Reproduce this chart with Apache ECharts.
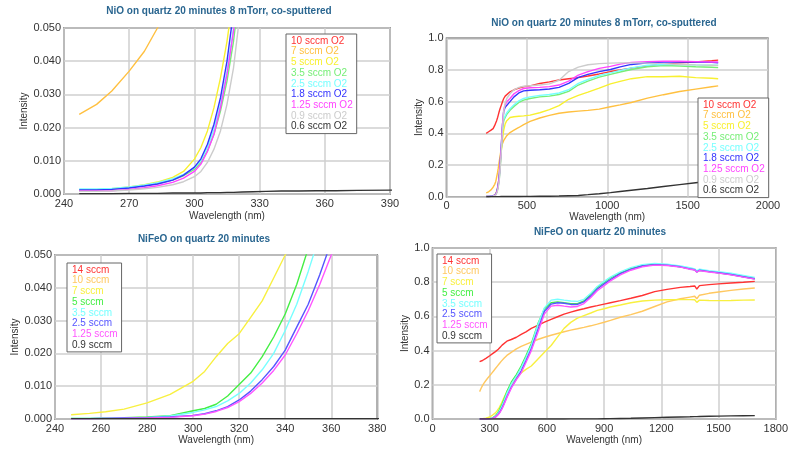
<!DOCTYPE html>
<html><head><meta charset="utf-8">
<script src="https://cdn.jsdelivr.net/npm/echarts@6/dist/echarts.min.js"></script>
<style>html,body{margin:0;padding:0;background:#fff}#c{width:791px;height:449px}</style>
</head><body><div id="c"></div>
<script>
// ---------- NiO on quartz (top panels) ----------
const wlNiO = [247,255,262,270,277,283,290,295,300,303, 306,309,312,315,318,322,327,333,340,348, 356,365,375,395,420,450,480,520,580,640, 700,760,820,880,950,1020,1080,1150,1250,1350, 1450,1550,1650,1690];
const nioNames = ['10 sccm O2','7 sccm O2','5 sccm O2','3.5 sccm O2','2.5 sccm O2','1.8 sccm O2','1.25 sccm O2','0.9 sccm O2','0.6 sccm O2'];
const nio10 = [0.400,0.405,0.41,0.415,0.42,0.425,0.43,0.44,0.45,0.46, 0.465,0.472,0.48,0.49,0.50,0.515,0.535,0.555,0.575,0.60, 0.62,0.635,0.645,0.662,0.675,0.686,0.694,0.70,0.715,0.725, 0.737,0.745,0.752,0.762,0.775,0.79,0.80,0.812,0.825,0.837, 0.845,0.85,0.858,0.862];
const nio7 = [0.024,0.027,0.031,0.037,0.043,0.050,0.06,0.068,0.078,0.086, 0.095,0.108,0.125,0.14,0.155,0.18,0.215,0.255,0.30,0.335, 0.355,0.37,0.385,0.405,0.42,0.437,0.455,0.475,0.497,0.513, 0.527,0.535,0.54,0.545,0.553,0.568,0.58,0.595,0.622,0.644, 0.664,0.679,0.694,0.70];
const nio5 = [0.0012,0.0013,0.0016,0.0021,0.0028,0.0036,0.005,0.0068,0.0105,0.014, 0.019,0.026,0.035,0.046,0.06,0.085,0.12,0.19,0.28,0.36, 0.42,0.46,0.48,0.50,0.505,0.508,0.51,0.515,0.53,0.55, 0.575,0.615,0.64,0.66,0.685,0.712,0.728,0.745,0.758,0.757, 0.76,0.752,0.748,0.745];
const nio35 = [0.0013,0.0013,0.0015,0.0019,0.0025,0.0031,0.0042,0.0055,0.0074,0.0095, 0.013,0.018,0.025,0.034,0.046,0.068,0.10,0.17,0.28,0.42, 0.48,0.50,0.52,0.545,0.57,0.595,0.61,0.62,0.63,0.635, 0.645,0.665,0.705,0.73,0.755,0.772,0.787,0.803,0.82,0.828, 0.825,0.82,0.817,0.815];
const nio25 = [0.0015,0.0015,0.0017,0.0021,0.0027,0.0034,0.0046,0.0059,0.0079,0.0101, 0.014,0.0195,0.027,0.037,0.05,0.072,0.105,0.18,0.29,0.43, 0.49,0.51,0.53,0.555,0.58,0.605,0.62,0.63,0.64,0.645, 0.655,0.675,0.715,0.74,0.765,0.782,0.797,0.813,0.83,0.835, 0.835,0.832,0.83,0.83];
const nio18 = [0.0012,0.0012,0.0014,0.0018,0.0024,0.003,0.0042,0.0057,0.0081,0.0106, 0.015,0.021,0.029,0.04,0.055,0.08,0.12,0.2,0.31,0.45, 0.54,0.565,0.575,0.60,0.63,0.655,0.668,0.672,0.675,0.68, 0.69,0.715,0.753,0.772,0.79,0.803,0.82,0.835,0.846,0.85, 0.85,0.85,0.848,0.846];
const nio125 = [0.0009,0.0009,0.001,0.0014,0.0019,0.0025,0.0035,0.0048,0.0068,0.009, 0.0128,0.018,0.026,0.036,0.049,0.075,0.11,0.19,0.30,0.45, 0.55,0.58,0.60,0.62,0.65,0.67,0.683,0.688,0.69,0.695, 0.705,0.73,0.768,0.79,0.81,0.823,0.837,0.848,0.853,0.855, 0.855,0.853,0.85,0.85];
const nio09 = [0.0008,0.0008,0.0009,0.0012,0.0016,0.002,0.0028,0.0037,0.0052,0.0068, 0.0095,0.0135,0.019,0.027,0.038,0.06,0.09,0.16,0.27,0.42, 0.54,0.59,0.62,0.65,0.675,0.69,0.697,0.70,0.705,0.712, 0.735,0.79,0.818,0.833,0.84,0.843,0.845,0.845,0.843,0.84, 0.835,0.832,0.83,0.828];
const nio06 = [0.0001,0.0001,0.0001,0.0002,0.0002,0.0002,0.0003,0.0003,0.0003,0.0003, 0.0004,0.0004,0.0004,0.0005,0.0005,0.0006,0.0007,0.0008,0.0009,0.0009, 0.001,0.001,0.0011,0.0012,0.0013,0.0015,0.0018,0.0022,0.0027,0.0033, 0.004,0.006,0.008,0.013,0.019,0.026,0.033,0.041,0.052,0.064, 0.076,0.088,0.099,0.105];
const nioValues = [nio10,nio7,nio5,nio35,nio25,nio18,nio125,nio09,nio06];
const nioColors = ['#ff3333','#ffc040','#f8f030','#77ee77','#77ffff','#3333ff','#ff44ff','#cccccc','#333333'];

// ---------- NiFeO on quartz (bottom panels) ----------
const wlFe = [247,255,262,270,280,290,300,305,310,315, 320,325,330,335,340,345,350,355,360,365, 375,390,413,440,465,490,518,552,587,622, 656,690,725,760,794,830,864,900,933,985, 1040,1100,1165,1230,1300,1350,1375,1386,1400,1450, 1500,1565,1630,1690];
const feNames = ['14 sccm','10 sccm','7 sccm','5 sccm','3.5 sccm','2.5 sccm','1.25 sccm','0.9 sccm'];
const fe14 = [0.335,0.338,0.342,0.347,0.355,0.362,0.37,0.374,0.378,0.382, 0.386,0.39,0.394,0.398,0.402,0.408,0.414,0.42,0.426,0.432, 0.442,0.455,0.465,0.478,0.495,0.51,0.53,0.548,0.566,0.583, 0.598,0.613,0.625,0.636,0.645,0.655,0.663,0.672,0.68,0.692, 0.706,0.722,0.745,0.758,0.77,0.775,0.778,0.76,0.78,0.786, 0.79,0.795,0.80,0.805];
const fe10 = [0.16,0.18,0.195,0.21,0.225,0.24,0.253,0.26,0.267,0.274, 0.281,0.288,0.295,0.302,0.309,0.316,0.323,0.33,0.337,0.343, 0.355,0.372,0.39,0.41,0.425,0.437,0.45,0.465,0.478,0.49, 0.50,0.51,0.52,0.528,0.536,0.545,0.555,0.566,0.577,0.595, 0.61,0.63,0.658,0.685,0.703,0.713,0.718,0.703,0.724,0.735, 0.743,0.752,0.76,0.766];
const fe7 = [0.0013,0.0017,0.0022,0.003,0.0049,0.0075,0.0115,0.0145,0.019,0.023, 0.026,0.031,0.036,0.043,0.050,0.058,0.067,0.077,0.088,0.10, 0.125,0.16,0.205,0.24,0.27,0.29,0.31,0.35,0.39,0.43, 0.48,0.53,0.565,0.59,0.605,0.62,0.635,0.645,0.655,0.667, 0.68,0.69,0.695,0.697,0.698,0.698,0.697,0.682,0.695,0.693, 0.692,0.693,0.695,0.696];
const fe5 = [0.0002,0.0002,0.0003,0.0004,0.0006,0.001,0.0025,0.0032,0.0045,0.007, 0.0105,0.014,0.019,0.025,0.032,0.041,0.052,0.063,0.075,0.088, 0.115,0.16,0.215,0.26,0.31,0.37,0.44,0.555,0.645,0.68, 0.685,0.68,0.675,0.675,0.69,0.73,0.77,0.80,0.825,0.855, 0.88,0.897,0.905,0.90,0.89,0.878,0.873,0.86,0.87,0.862, 0.855,0.845,0.832,0.82];
const fe35 = [0.0002,0.0002,0.0003,0.0004,0.0005,0.0009,0.002,0.0028,0.0038,0.0055, 0.0078,0.011,0.015,0.02,0.027,0.035,0.045,0.056,0.067,0.079, 0.105,0.15,0.205,0.25,0.30,0.36,0.43,0.55,0.65,0.695, 0.70,0.695,0.69,0.688,0.70,0.735,0.775,0.805,0.83,0.86, 0.885,0.903,0.91,0.905,0.895,0.885,0.878,0.866,0.876,0.868, 0.862,0.852,0.84,0.828];
const fe25 = [0.0001,0.0001,0.0002,0.0003,0.0004,0.0006,0.0011,0.0016,0.0025,0.0038, 0.0058,0.0085,0.012,0.016,0.021,0.028,0.035,0.044,0.054,0.065, 0.09,0.13,0.185,0.235,0.28,0.34,0.41,0.52,0.63,0.672, 0.68,0.677,0.67,0.67,0.685,0.72,0.76,0.79,0.815,0.85, 0.875,0.895,0.903,0.90,0.89,0.878,0.873,0.86,0.87,0.862, 0.855,0.845,0.832,0.82];
const fe125 = [0.0001,0.0001,0.0002,0.0002,0.0003,0.0005,0.001,0.0015,0.0023,0.0035, 0.0053,0.0078,0.011,0.0148,0.0195,0.026,0.033,0.041,0.05,0.06, 0.085,0.125,0.18,0.23,0.27,0.33,0.40,0.505,0.615,0.66, 0.665,0.66,0.655,0.658,0.675,0.71,0.75,0.78,0.808,0.843, 0.87,0.89,0.90,0.898,0.888,0.876,0.871,0.858,0.868,0.86, 0.853,0.843,0.83,0.818];
const fe09 = [0.0001,0.0001,0.0001,0.0001,0.0001,0.0001,0.0001,0.0001,0.0001,0.0001, 0.0001,0.0001,0.0001,0.0001,0.0001,0.0001,0.0001,0.0001,0.0001,0.0001, 0.0001,0.0001,0.0001,0.0001,0.0001,0.0002,0.0002,0.0002,0.0002,0.0003, 0.0003,0.0004,0.0005,0.0006,0.0007,0.0008,0.001,0.0015,0.002,0.003, 0.004,0.006,0.008,0.01,0.012,0.013,0.014,0.014,0.015,0.016, 0.017,0.018,0.019,0.02];
const feValues = [fe14,fe10,fe7,fe5,fe35,fe25,fe125,fe09];
const feColors = ['#ff3333','#ffc860','#f8f040','#44ee44','#77ffff','#5555ff','#ff55ff','#333333'];

// ---------- titles / axes ----------
const titleNiO = 'NiO on quartz 20 minutes 8 mTorr, co-sputtered';
const titleFe = 'NiFeO on quartz 20 minutes';
const xName = 'Wavelength (nm)';
const yName = 'Intensity';

const FONT = 'Liberation Sans, Arial, sans-serif';
const chart = echarts.init(document.getElementById('c'), null, {renderer:'canvas'});

const grids = [
  {left:64, top:28, width:326, height:166},
  {left:446.5, top:38.3, width:321.5, height:158.4},
  {left:55, top:255, width:322.3, height:164},
  {left:432.5, top:248, width:346.2, height:171}
];
const xRanges = [[240,390,30],[0,2000,500],[240,380,20],[0,1800,300]];
const yRanges = [[0,0.05,0.01,3],[0,1,0.2,1],[0,0.05,0.01,3],[0,1,0.2,1]];
const xGaps = [17,15,14,14.5];
const yGaps = [26,16,31.5,18];

function pairs(wl, vals){ return wl.map((x,i)=>[x, vals[i]]); }

const option = {
  animation:false,
  backgroundColor:'#fff',
  textStyle:{fontFamily:FONT},
  title:[
    {text:titleNiO, left:219, top:6},
    {text:titleNiO, left:604, top:18},
    {text:titleFe, left:204, top:234},
    {text:titleFe, left:600, top:227}
  ].map(t=>Object.assign(t,{textAlign:'center', padding:0, textStyle:{fontSize:10, fontWeight:'bold', color:'#2a6690', fontFamily:FONT}})),
  grid: grids.map(g=>Object.assign({show:true, borderColor:'#555', borderWidth:1.5, backgroundColor:'#fff', containLabel:false}, g)),
  xAxis: xRanges.map((r,i)=>({
    type:'value', gridIndex:i, min:r[0], max:r[1], interval:r[2],
    name:xName, nameLocation:'middle', nameGap:xGaps[i],
    nameTextStyle:{fontSize:10, color:'#333', fontFamily:FONT},
    axisLine:{show:false}, axisTick:{show:false},
    axisLabel:{fontSize:11, color:'#333', margin:4, fontFamily:FONT, formatter:v=>String(v)},
    splitLine:{show:true, lineStyle:{color:'#cfcfcf', width:1.5}}
  })),
  yAxis: yRanges.map((r,i)=>({
    type:'value', gridIndex:i, min:r[0], max:r[1], interval:r[2],
    name:yName, nameLocation:'middle', nameGap:yGaps[i],
    nameTextStyle:{fontSize:10, color:'#333', fontFamily:FONT},
    axisLine:{show:false}, axisTick:{show:false},
    axisLabel:{fontSize:11, color:'#333', margin:3, fontFamily:FONT, formatter:v=>v.toFixed(r[3])},
    splitLine:{show:true, lineStyle:{color:'#cfcfcf', width:1.5}}
  })),
  legend:[
    {names:nioNames, colors:nioColors, left:286, top:34},
    {names:nioNames, colors:nioColors, left:698, top:98},
    {names:feNames, colors:feColors, left:67, top:263},
    {names:feNames, colors:feColors, left:437, top:254}
  ].map(l=>({
    orient:'vertical', left:l.left, top:l.top, padding:[2,4,2,0],
    icon:'rect', itemWidth:0, itemHeight:10, itemGap:0.7,
    backgroundColor:'#fff', borderColor:'#666', borderWidth:1,
    selectedMode:false,
    textStyle:{fontSize:10, fontFamily:FONT},
    data:l.names.map((n,i)=>({name:n, textStyle:{color:l.colors[i]}}))
  })),
  series:[]
};

[0,1].forEach(ax=>{
  nioNames.forEach((n,i)=>{
    option.series.push({type:'line', name:n, xAxisIndex:ax, yAxisIndex:ax, data:pairs(wlNiO, nioValues[i]),
      showSymbol:false, symbol:'none', clip:true, lineStyle:{color:nioColors[i], width:1.4}, itemStyle:{color:nioColors[i]}});
  });
});
[2,3].forEach(ax=>{
  feNames.forEach((n,i)=>{
    option.series.push({type:'line', name:n, xAxisIndex:ax, yAxisIndex:ax, data:pairs(wlFe, feValues[i]),
      showSymbol:false, symbol:'none', clip:true, lineStyle:{color:feColors[i], width:1.4}, itemStyle:{color:feColors[i]}});
  });
});

chart.setOption(option);
</script>
</body></html>
